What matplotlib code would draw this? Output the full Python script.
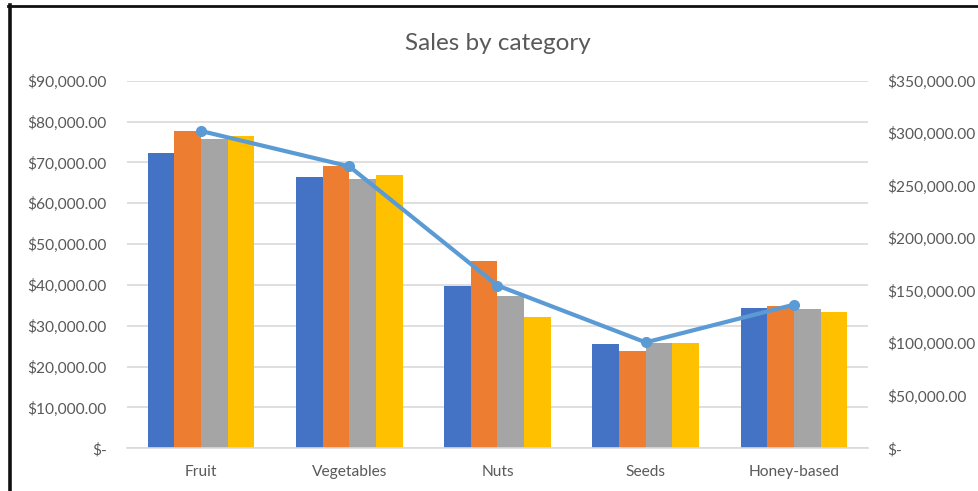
import numpy as np
import matplotlib
matplotlib.use("Agg")
import matplotlib.pyplot as plt
from matplotlib.lines import Line2D
from matplotlib.ticker import FuncFormatter

plt.rcParams['font.family'] = ['Lato', 'DejaVu Sans']

categories = ['Fruit', 'Vegetables', 'Nuts', 'Seeds', 'Honey-based']
q1 = [72200, 66350, 39800, 25540, 34350]
q2 = [77700, 69200, 45900, 23740, 34840]
q3 = [75650, 65860, 37200, 25780, 34110]
q4 = [76550, 67000, 32100, 25780, 33450]
series = [q1, q2, q3, q4]
colors = ['#4472C4', '#ED7D31', '#A5A5A5', '#FFC000']
total = np.sum(series, axis=0)

text_color = '#595959'
grid_color = '#D9D9D9'


def money(v, pos=None):
    if v == 0:
        return '$-'
    return f'${v:,.2f}'


fig = plt.figure(figsize=(9.79, 4.91), dpi=100)
ax = fig.add_axes([127 / 979, 1 - 448.3 / 491, 741 / 979, 367.6 / 491])
ax2 = ax.twinx()

x = np.arange(len(categories))
w = 0.18
for i, (vals, c) in enumerate(zip(series, colors)):
    ax.bar(x + (i - 1.5) * w, vals, width=w, color=c, zorder=2)

ax.set_xlim(-0.5, len(categories) - 0.5)
ax.set_ylim(0, 90000)
ax.set_yticks(np.arange(0, 90001, 10000))
ax.yaxis.set_major_formatter(FuncFormatter(money))
ax.set_xticks(x)
ax.set_xticklabels(categories)
ax.grid(axis='y', color=grid_color, linewidth=1.2, zorder=0)
ax.set_axisbelow(True)

ax2.plot(x, total, color='#5B9BD5', linewidth=3, marker='o', markersize=7,
         zorder=3)
ax2.set_ylim(0, 350000)
ax2.set_yticks(np.arange(0, 350001, 50000))
ax2.yaxis.set_major_formatter(FuncFormatter(money))

for a in (ax, ax2):
    for s in a.spines.values():
        s.set_visible(False)
    a.tick_params(length=0, labelsize=11.2, labelcolor=text_color)
ax.spines['bottom'].set_visible(True)
ax.spines['bottom'].set_color(grid_color)
ax.spines['bottom'].set_linewidth(1.2)
ax.tick_params(axis='y', pad=14.5)
ax.tick_params(axis='x', pad=12)
ax2.tick_params(axis='y', pad=13.5)

ax.set_title('Sales by category', fontsize=17.5, color=text_color, pad=22)

# frame around the chart area
fig.add_artist(Line2D([10 / 979, 10 / 979], [0, 1 - 5 / 491], color='#111111',
                      linewidth=2.6, transform=fig.transFigure))
fig.add_artist(Line2D([8 / 979, 1], [1 - 6 / 491, 1 - 6 / 491], color='#111111',
                      linewidth=2.0, transform=fig.transFigure))

fig.savefig('out.png', dpi=100)
